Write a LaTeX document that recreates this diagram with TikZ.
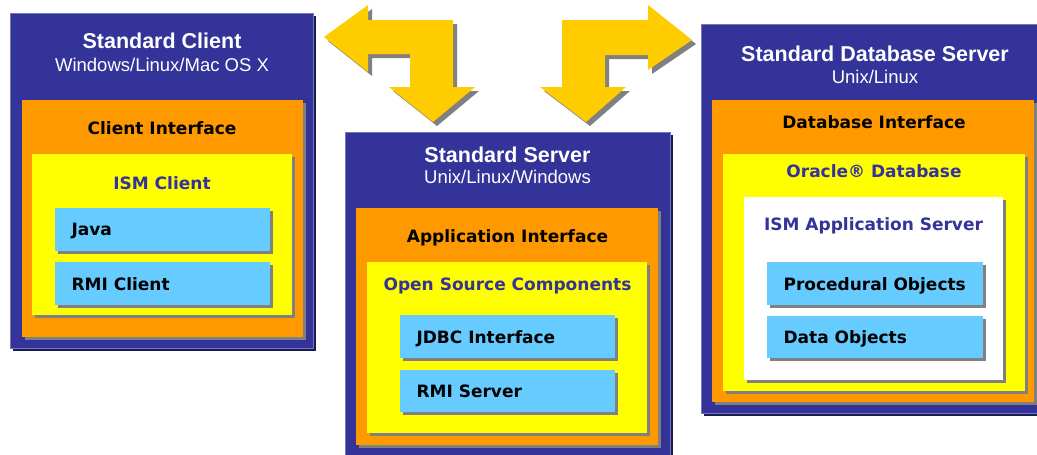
\documentclass[tikz,border=0pt]{standalone}
\usepackage{fontspec}
\setmainfont{Liberation Sans}
\newfontfamily\boxfont{DejaVu Sans}
\usepackage{tikz}
\usetikzlibrary{shadows}
\definecolor{hostblue}{HTML}{333399}
\definecolor{hostedge}{HTML}{7777BB}
\definecolor{hostshade}{HTML}{1A1A55}
\definecolor{ifaceorange}{HTML}{FF9900}
\definecolor{coreyellow}{HTML}{FFFF00}
\definecolor{partcyan}{HTML}{66CCFF}
\definecolor{arrowgold}{HTML}{FFCC00}
\definecolor{shadegrey}{HTML}{808080}
\tikzset{
  every box node/.style={
    anchor=north west,inner sep=0pt,outer sep=0pt,
  },
  hostbox/.style={
    every box node,fill=hostblue,draw=hostedge,line width=0.8pt,
    drop shadow={shadow xshift=2.5pt,shadow yshift=-2.5pt,fill=hostshade,opacity=1},
  },
  ifacebox/.style={
    every box node,fill=ifaceorange,
    drop shadow={shadow xshift=3pt,shadow yshift=-3pt,fill=shadegrey,opacity=1},
  },
  corebox/.style={
    every box node,fill=coreyellow,
    drop shadow={shadow xshift=3pt,shadow yshift=-3pt,fill=shadegrey,opacity=1},
  },
  appbox/.style={
    every box node,fill=white,
    drop shadow={shadow xshift=3pt,shadow yshift=-3pt,fill=shadegrey,opacity=1},
  },
  partbox/.style={
    every box node,fill=partcyan,
    drop shadow={shadow xshift=3pt,shadow yshift=-3pt,fill=shadegrey,opacity=1},
  },
  hosttitle/.style={anchor=base,text=white,font=\bfseries\fontsize{21.5}{24}\selectfont},
  hostsub/.style={anchor=base,text=white,font=\fontsize{18.5}{21}\selectfont},
  ifacelabel/.style={anchor=base,text=black,font=\boxfont\bfseries\fontsize{17}{20}\selectfont},
  corelabel/.style={anchor=base,text=hostblue,font=\boxfont\bfseries\fontsize{17}{20}\selectfont},
  partlabel/.style={anchor=base west,text=black,font=\boxfont\bfseries\fontsize{17}{20}\selectfont},
  linkarrow/.style={fill=arrowgold,
    drop shadow={shadow xshift=4pt,shadow yshift=-4pt,fill=shadegrey,opacity=1}},
}

\begin{document}
\begin{tikzpicture}[x=1pt,y=-1pt]
			\useasboundingbox (0,0) rectangle (1037,455);
			% Standard Client
			\node[hostbox,minimum width=303pt,minimum height=335pt] (client) at (10,13) {};
			\node[ifacebox,minimum width=281pt,minimum height=237pt] (clientif) at (22,100) {};
			\node[corebox,minimum width=260pt,minimum height=161pt] (ismclient) at (32,154) {};
			\node[partbox,minimum width=215pt,minimum height=43pt] (java) at (55,208) {};
			\node[partbox,minimum width=215pt,minimum height=43pt] (rmiclient) at (55,262) {};
			\node[hosttitle] (clienttitle) at (162,48) {Standard Client};
			\node[hostsub] (clientsub) at (162,71) {Windows/Linux/Mac OS X};
			\node[ifacelabel] (clientiflabel) at (162,134) {Client Interface};
			\node[corelabel] (ismclientlabel) at (162,189) {ISM Client};
			\node[partlabel] (javalabel) at (68,235) {Java};
			\node[partlabel] (rmiclientlabel) at (68,290) {RMI Client};
			% Standard Server
			\node[hostbox,minimum width=325pt,minimum height=323pt] (server) at (345,132) {};
			\node[ifacebox,minimum width=302pt,minimum height=237pt] (appif) at (356,208) {};
			\node[corebox,minimum width=280pt,minimum height=171pt] (oss) at (367,262) {};
			\node[partbox,minimum width=215pt,minimum height=43pt] (jdbc) at (400,315) {};
			\node[partbox,minimum width=215pt,minimum height=42pt] (rmiserver) at (400,370) {};
			\node[hosttitle] (servertitle) at (507.5,162) {Standard Server};
			\node[hostsub] (serversub) at (507.5,183) {Unix/Linux/Windows};
			\node[ifacelabel] (appiflabel) at (507.5,242) {Application Interface};
			\node[corelabel] (osslabel) at (507.5,290) {Open Source Components};
			\node[partlabel] (jdbclabel) at (413,343) {JDBC Interface};
			\node[partlabel] (rmiserverlabel) at (413,397) {RMI Server};
			% Standard Database Server
			\node[hostbox,minimum width=338pt,minimum height=389pt] (dbhost) at (701,24) {};
			\node[ifacebox,minimum width=322pt,minimum height=302pt] (dbif) at (712,100) {};
			\node[corebox,minimum width=302pt,minimum height=237pt] (oracle) at (723,154) {};
			\node[appbox,minimum width=259pt,minimum height=183pt] (ismapp) at (744,197) {};
			\node[partbox,minimum width=216pt,minimum height=43pt] (procobj) at (767,262) {};
			\node[partbox,minimum width=216pt,minimum height=42pt] (dataobj) at (767,316) {};
			\node[hosttitle] (dbtitle) at (875,61) {Standard Database Server};
			\node[hostsub] (dbsub) at (875,83) {Unix/Linux};
			\node[ifacelabel] (dbiflabel) at (874,128) {Database Interface};
			\node[corelabel] (oraclelabel) at (874,177) {Oracle® Database};
			\node[corelabel] (ismapplabel) at (873.5,230) {ISM Application Server};
			\node[partlabel] (procobjlabel) at (780,290) {Procedural Objects};
			\node[partlabel] (dataobjlabel) at (780,343) {Data Objects};
			% link arrows
			\fill[linkarrow] (324,37) -- (368,5) -- (368,20) -- (453,20) -- (453,87) -- (475,87)
				-- (433,122) -- (389,87) -- (410,87) -- (410,54) -- (368,54) -- (368,72) -- cycle;
			\fill[linkarrow] (692,40) -- (648,5) -- (648,20) -- (562,20) -- (562,87) -- (540,87)
				-- (586,122) -- (626,87) -- (605,87) -- (605,55) -- (648,55) -- (648,70) -- cycle;
		\end{tikzpicture}
\end{document}
